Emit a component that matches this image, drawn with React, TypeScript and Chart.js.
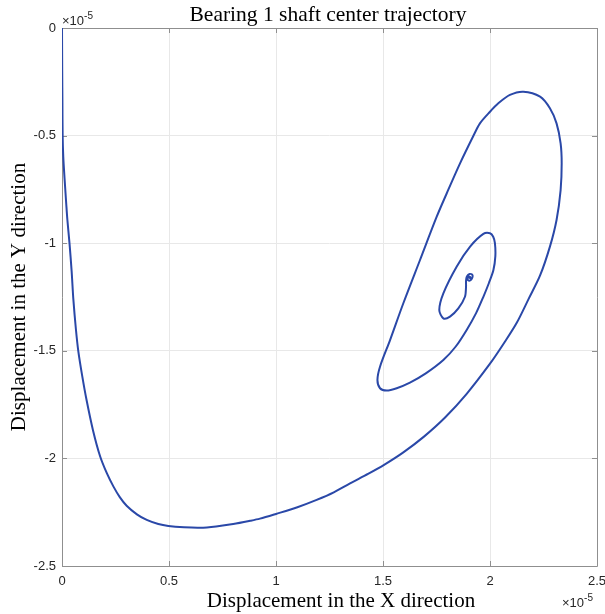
import React, { useEffect, useRef } from 'react';
import { Chart, registerables } from 'chart.js';

Chart.register(...registerables);

// Values are in units of ×10^-5
const xValues = [
  0, 0.0005, 0.001, 0.002, 0.003, 0.006, 0.012, 0.02, 0.025, 0.035, 0.045, 0.053, 0.065, 0.076, 0.095,
  0.115, 0.145, 0.178, 0.21, 0.24, 0.27, 0.302, 0.35, 0.396, 0.45, 0.497, 0.57, 0.645, 0.72, 0.8,
  0.879, 0.925, 1.0, 1.1, 1.19, 1.27, 1.346, 1.43, 1.505, 1.595, 1.69, 1.79, 1.891, 2.0, 2.065,
  2.125, 2.18, 2.234, 2.28, 2.311, 2.33, 2.335, 2.33, 2.311, 2.28, 2.234, 2.156, 2.093, 2.039, 2.0,
  1.953, 1.922, 1.86, 1.798, 1.751, 1.673, 1.595, 1.533, 1.486, 1.474, 1.486, 1.517, 1.564, 1.626, 1.7,
  1.782, 1.84, 1.891, 1.935, 1.969, 1.995, 2.016, 2.025, 2.023, 2.015, 2.0, 1.969, 1.907, 1.844, 1.782,
  1.763, 1.782, 1.813, 1.852, 1.883, 1.888, 1.888, 1.892, 1.905, 1.918, 1.915, 1.903, 1.895, 1.9, 1.908,
  1.903,
];
const yValues = [
  0, -0.1, -0.2, -0.35, -0.5, -0.6, -0.7, -0.82, -0.89, -1.0, -1.13, -1.26, -1.4, -1.5, -1.62,
  -1.73, -1.87, -1.99, -2.07, -2.13, -2.18, -2.22, -2.26, -2.286, -2.305, -2.314, -2.32, -2.322, -2.316, -2.305,
  -2.29, -2.28, -2.258, -2.227, -2.193, -2.158, -2.116, -2.072, -2.03, -1.972, -1.9, -1.81, -1.7, -1.56, -1.465,
  -1.37, -1.26, -1.15, -1.016, -0.892, -0.753, -0.629, -0.536, -0.443, -0.373, -0.319, -0.296, -0.311, -0.35, -0.389,
  -0.443, -0.502, -0.629, -0.768, -0.877, -1.078, -1.279, -1.45, -1.574, -1.636, -1.674, -1.685, -1.674, -1.648, -1.605,
  -1.543, -1.48, -1.403, -1.325, -1.249, -1.185, -1.125, -1.06, -1.0, -0.97, -0.954, -0.957, -1.016, -1.109, -1.233,
  -1.31, -1.349, -1.341, -1.303, -1.249, -1.202, -1.175, -1.155, -1.143, -1.148, -1.165, -1.175, -1.168, -1.155, -1.158,
  -1.165,
];

const xTicks = [0, 0.5, 1, 1.5, 2, 2.5];
const yTicks = [0, -0.5, -1, -1.5, -2, -2.5];
const titleText = 'Bearing 1 shaft center trajectory';
const xTitle = 'Displacement in the X direction';
const yTitle = 'Displacement in the Y direction';
const expBase = '\u00d710';
const expPower = '-5';

const LINE_COLOR = '#2a48a8';
const AXIS_COLOR = '#8f8f8f';
const GRID_COLOR = '#e8e8e8';
const TICK_TEXT = '#262626';
const SERIF = '"Liberation Serif", "Times New Roman", serif';
const SANS = '"Liberation Sans", Arial, sans-serif';

const framePlugin = {
  id: 'frame',
  beforeDatasetsDraw(chart: any) {
    const { ctx, chartArea: a, scales } = chart;
    const xs = scales.x;
    const ys = scales.y;
    ctx.save();
    ctx.strokeStyle = AXIS_COLOR;
    ctx.lineWidth = 1;
    ctx.beginPath();
    ctx.rect(Math.round(a.left) + 0.5, Math.round(a.top) + 0.5, Math.round(a.right - a.left), Math.round(a.bottom - a.top));
    ctx.stroke();
    const tl = 5;
    ctx.beginPath();
    xTicks.forEach((v) => {
      const px = Math.round(xs.getPixelForValue(v)) + 0.5;
      ctx.moveTo(px, a.bottom);
      ctx.lineTo(px, a.bottom - tl);
      ctx.moveTo(px, a.top);
      ctx.lineTo(px, a.top + tl);
    });
    yTicks.forEach((v) => {
      const py = Math.round(ys.getPixelForValue(v)) + 0.5;
      ctx.moveTo(a.left, py);
      ctx.lineTo(a.left + tl, py);
      ctx.moveTo(a.right, py);
      ctx.lineTo(a.right - tl, py);
    });
    ctx.stroke();
    ctx.restore();
  },
  afterDraw(chart: any) {
    const { ctx, chartArea: a } = chart;
    ctx.save();
    ctx.fillStyle = '#000';
    ctx.textAlign = 'center';
    ctx.textBaseline = 'alphabetic';
    ctx.font = `21.5px ${SERIF}`;
    ctx.fillText(titleText, 328, 21);
    ctx.font = `21px ${SERIF}`;
    ctx.fillText(xTitle, 341, 607);
    ctx.save();
    ctx.translate(25, 297);
    ctx.rotate(-Math.PI / 2);
    ctx.fillText(yTitle, 0, 0);
    ctx.restore();

    const drawExp = (x: number, y: number) => {
      ctx.fillStyle = TICK_TEXT;
      ctx.textAlign = 'left';
      ctx.font = `13px ${SANS}`;
      ctx.fillText(expBase, x, y);
      const w = ctx.measureText(expBase).width;
      ctx.font = `10px ${SANS}`;
      ctx.fillText(expPower, x + w, y - 6);
    };
    drawExp(a.left, 25);
    drawExp(a.right - 35, 607);
    ctx.restore();
  },
};

export default function App() {
  const ref = useRef<HTMLCanvasElement | null>(null);
  useEffect(() => {
    if (!ref.current) return;
    const data = xValues.map((x, i) => ({ x, y: yValues[i] }));
    const chart = new Chart(ref.current, {
      type: 'scatter',
      data: {
        datasets: [
          {
            data,
            showLine: true,
            borderColor: LINE_COLOR,
            backgroundColor: LINE_COLOR,
            borderWidth: 2,
            pointRadius: 0,
            tension: 0.3,
            fill: false,
          },
        ],
      },
      options: {
        responsive: false,
        animation: false,
        layout: { padding: { top: 28, right: 8, left: 0, bottom: 0 } },
        plugins: { legend: { display: false }, tooltip: { enabled: false }, title: { display: false } },
        scales: {
          x: {
            type: 'linear',
            min: 0,
            max: 2.5,
            afterBuildTicks: (s: any) => {
              s.ticks = xTicks.map((v) => ({ value: v }));
            },
            afterFit: (s: any) => {
              s.height = 48;
              s.paddingLeft = 0;
              s.paddingRight = 0;
            },
            ticks: {
              color: TICK_TEXT,
              font: { family: SANS, size: 13 },
              padding: 8,
              maxRotation: 0,
              callback: (v: any) => String(v),
            },
            grid: { color: GRID_COLOR, drawTicks: false },
            border: { display: false },
          },
          y: {
            type: 'linear',
            min: -2.5,
            max: 0,
            afterBuildTicks: (s: any) => {
              s.ticks = yTicks.map((v) => ({ value: v }));
            },
            afterFit: (s: any) => {
              s.width = 62;
              s.paddingTop = 0;
              s.paddingBottom = 0;
            },
            ticks: {
              color: TICK_TEXT,
              font: { family: SANS, size: 13 },
              padding: 6,
              callback: (v: any) => String(v),
            },
            grid: { color: GRID_COLOR, drawTicks: false },
            border: { display: false },
          },
        },
      },
      plugins: [framePlugin],
    });
    return () => chart.destroy();
  }, []);
  return (
    <div style={{ position: 'fixed', left: 0, top: 0, width: 605, height: 614, background: '#fff' }}>
      <canvas ref={ref} width={605} height={614} style={{ display: 'block' }} />
    </div>
  );
}
